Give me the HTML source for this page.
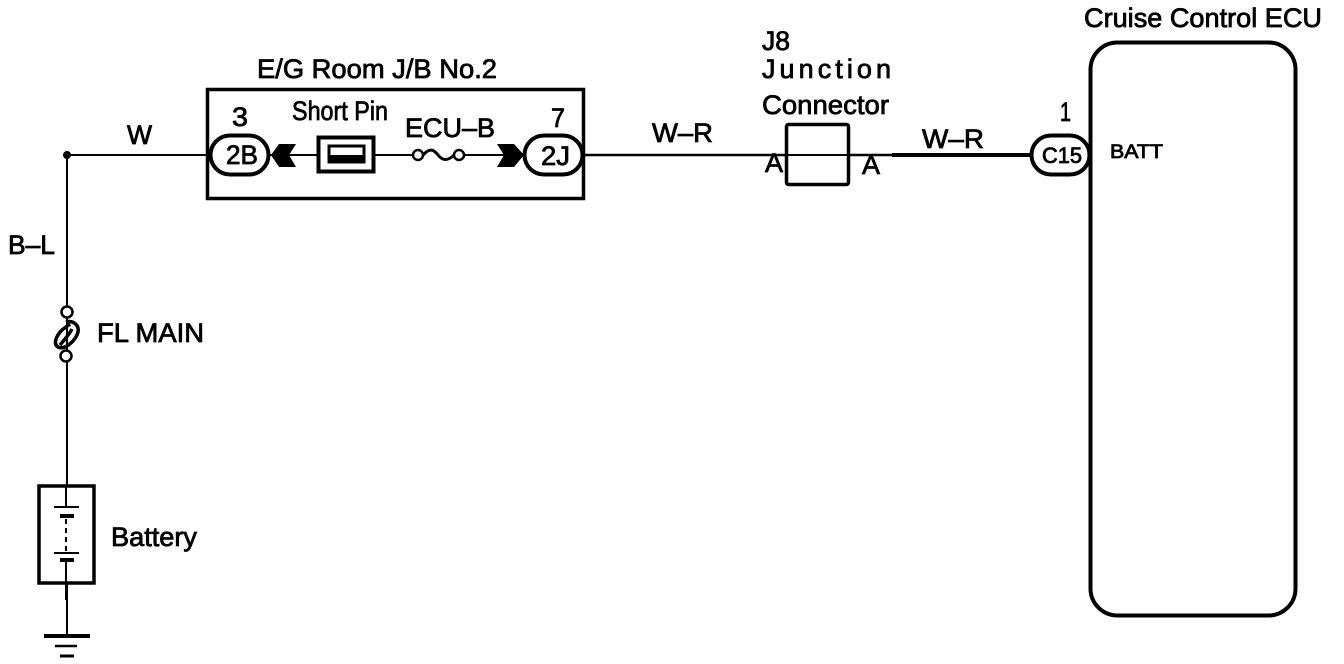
<!DOCTYPE html>
<html><head><meta charset="utf-8"><style>
html,body{margin:0;padding:0;background:#fff;width:1344px;height:664px;overflow:hidden}
svg{display:block}
text{font-family:"Liberation Sans",sans-serif;font-size:27px;fill:#000;stroke:#000;stroke-width:.8px}
</style></head><body>
<svg width="1344" height="664" viewBox="0 0 1344 664" xmlns="http://www.w3.org/2000/svg">
<g fill="none" stroke="#000">
<path d="M67 155H210M67 155V635" stroke-width="2"/>
<path d="M583 155H786M849 155H892" stroke-width="2.500"/>
<path d="M892 155H1031" stroke-width="4"/>
<path d="M786 155H849" stroke-width="2"/>
<path d="M269 155H317M375 155H413M464 155H524" stroke-width="2"/>
<rect x="207.500" y="89.500" width="376" height="109" stroke-width="3.500"/>
<rect x="786.500" y="124.500" width="62" height="60" rx="2" stroke-width="3.500"/>
<rect x="1090.500" y="42.500" width="205" height="573" rx="27" stroke-width="4"/>
<rect x="210.500" y="135.500" width="58" height="39" rx="19.500" fill="#fff" stroke-width="4"/>
<rect x="524.500" y="135.500" width="58" height="39" rx="19.500" fill="#fff" stroke-width="4"/>
<rect x="1031.500" y="135.500" width="58" height="39" rx="19.500" fill="#fff" stroke-width="4"/>
<rect x="318.500" y="137.500" width="55" height="34" fill="#fff" stroke-width="4"/>
<rect x="329" y="146" width="35" height="16" stroke-width="3"/>
<path d="M329 158H364" stroke-width="6"/>
<path d="M423 155C430 147 434 150 438 155S447 162 454 155" stroke-width="3"/>
<circle cx="418" cy="155" r="5" fill="#fff" stroke-width="2.500"/>
<circle cx="459" cy="155" r="5" fill="#fff" stroke-width="2.500"/>
<path d="M66 322C74 320 81 326 77 335C73 343 64 350 58 347C53 344 56 336 62 330L70 324M72 329C69 335 64 340 60 345" stroke-width="3.500"/>
<circle cx="67" cy="312" r="5.500" fill="#fff" stroke-width="2.500"/>
<circle cx="66" cy="356" r="5.500" fill="#fff" stroke-width="2.500"/>
<rect x="39" y="486" width="55" height="97" fill="#fff" stroke-width="3.500"/>
<path d="M66 486V507M66 559V600" stroke-width="2"/>
<path d="M66 519V553" stroke-width="2" stroke-dasharray="5 4"/>
<path d="M54 507H79M54 553H79" stroke-width="2"/>
<path d="M60 516H74M60 560H74" stroke-width="4"/>
<path d="M44 636H90" stroke-width="4"/>
<path d="M55 646H77" stroke-width="2.500"/>
<path d="M60 656H74" stroke-width="3"/>
</g>
<circle cx="67" cy="155" r="4" fill="#000"/>
<path d="M271 155L279 144H296L289 155L296 167H279Z" fill="#000"/>
<path d="M497 144H514L524 155L514 167H497L504 155Z" fill="#000"/>
<text x="257" y="78" textLength="240" lengthAdjust="spacingAndGlyphs">E/G Room J/B No.2</text>
<text x="292" y="120" textLength="96" lengthAdjust="spacingAndGlyphs">Short Pin</text>
<text x="405" y="137" textLength="90" lengthAdjust="spacingAndGlyphs">ECU–B</text>
<text x="232" y="126" textLength="16" lengthAdjust="spacingAndGlyphs">3</text>
<text x="551" y="127" textLength="14" lengthAdjust="spacingAndGlyphs">7</text>
<text x="226" y="164" textLength="32" lengthAdjust="spacingAndGlyphs">2B</text>
<text x="541" y="165" textLength="29" lengthAdjust="spacingAndGlyphs">2J</text>
<text x="127" y="144" textLength="25" lengthAdjust="spacingAndGlyphs">W</text>
<text x="652" y="142" textLength="61" lengthAdjust="spacingAndGlyphs">W–R</text>
<text x="922" y="148" textLength="62" lengthAdjust="spacingAndGlyphs">W–R</text>
<text x="8" y="254" textLength="47" lengthAdjust="spacingAndGlyphs">B–L</text>
<text x="97" y="342" textLength="107" lengthAdjust="spacingAndGlyphs">FL MAIN</text>
<text x="111" y="546" textLength="86" lengthAdjust="spacingAndGlyphs">Battery</text>
<text x="762" y="50" textLength="28" lengthAdjust="spacingAndGlyphs">J8</text>
<text x="762" y="78" textLength="129" lengthAdjust="spacing">Junction</text>
<text x="762" y="114" textLength="127" lengthAdjust="spacingAndGlyphs">Connector</text>
<text x="765" y="172" textLength="18" lengthAdjust="spacingAndGlyphs">A</text>
<text x="862" y="174" textLength="18" lengthAdjust="spacingAndGlyphs">A</text>
<text x="1060" y="121" textLength="11" lengthAdjust="spacingAndGlyphs">1</text>
<text x="1042" y="163" textLength="40" lengthAdjust="spacingAndGlyphs" style="font-size:22px">C15</text>
<text x="1110" y="158" textLength="53" lengthAdjust="spacingAndGlyphs" style="font-size:19px">BATT</text>
<text x="1084" y="27" textLength="238" lengthAdjust="spacingAndGlyphs">Cruise Control ECU</text>
</svg>
</body></html>
